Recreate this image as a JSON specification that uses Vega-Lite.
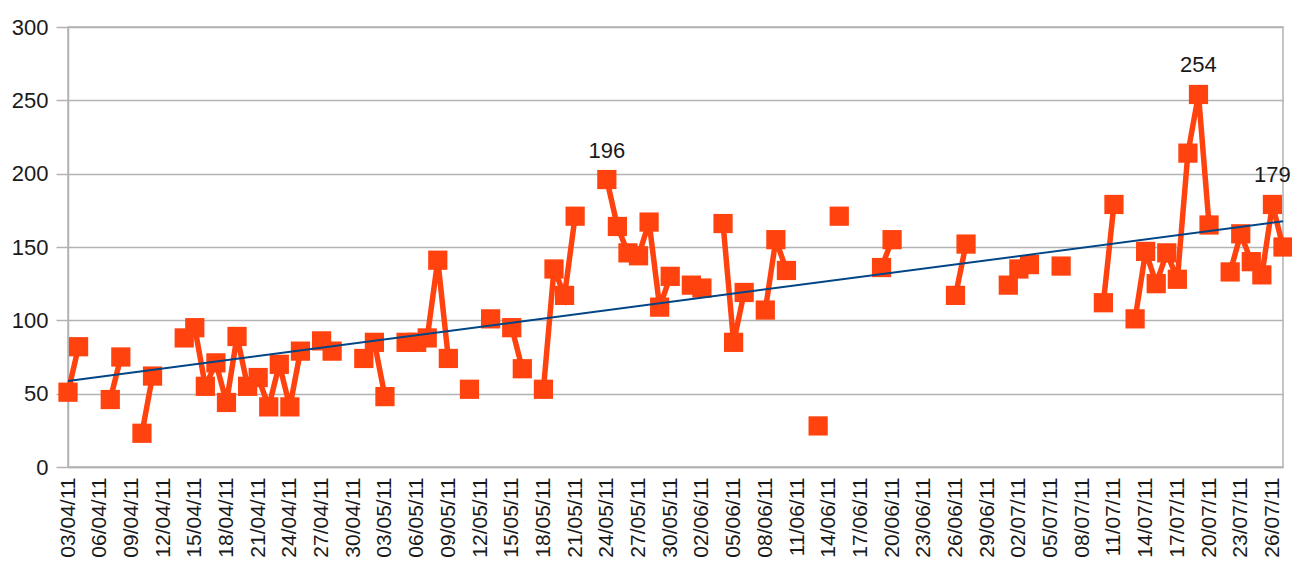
{
  "$schema": "https://vega.github.io/schema/vega-lite/v6.json",
  "autosize": {"type": "none"},
  "padding": {"left": 68, "top": 27, "right": 9, "bottom": 104},
  "width": 1215,
  "height": 440,
  "background": "#ffffff",
  "config": {
    "view": {"stroke": "#b3b3b3", "strokeWidth": 1.5},
    "font": "Liberation Sans",
    "axis": {"labelFont": "Liberation Sans", "labelColor": "#1a1a1a", "titleFont": "Liberation Sans"}
  },
  "data": {
    "values": [
      {"date": "2011-04-03", "v": 51}, {"date": "2011-04-04", "v": 82}, {"date": "2011-04-05", "v": null}, {"date": "2011-04-06", "v": null},
      {"date": "2011-04-07", "v": 46}, {"date": "2011-04-08", "v": 75}, {"date": "2011-04-09", "v": null}, {"date": "2011-04-10", "v": 23},
      {"date": "2011-04-11", "v": 62}, {"date": "2011-04-12", "v": null}, {"date": "2011-04-13", "v": null}, {"date": "2011-04-14", "v": 88},
      {"date": "2011-04-15", "v": 95}, {"date": "2011-04-16", "v": 55}, {"date": "2011-04-17", "v": 71}, {"date": "2011-04-18", "v": 44},
      {"date": "2011-04-19", "v": 89}, {"date": "2011-04-20", "v": 55}, {"date": "2011-04-21", "v": 61}, {"date": "2011-04-22", "v": 41},
      {"date": "2011-04-23", "v": 70}, {"date": "2011-04-24", "v": 41}, {"date": "2011-04-25", "v": 79}, {"date": "2011-04-26", "v": null},
      {"date": "2011-04-27", "v": 86}, {"date": "2011-04-28", "v": 79}, {"date": "2011-04-29", "v": null}, {"date": "2011-04-30", "v": null},
      {"date": "2011-05-01", "v": 74}, {"date": "2011-05-02", "v": 85}, {"date": "2011-05-03", "v": 48}, {"date": "2011-05-04", "v": null},
      {"date": "2011-05-05", "v": 85}, {"date": "2011-05-06", "v": 85}, {"date": "2011-05-07", "v": 88}, {"date": "2011-05-08", "v": 141},
      {"date": "2011-05-09", "v": 74}, {"date": "2011-05-10", "v": null}, {"date": "2011-05-11", "v": 53}, {"date": "2011-05-12", "v": null},
      {"date": "2011-05-13", "v": 101}, {"date": "2011-05-14", "v": null}, {"date": "2011-05-15", "v": 95}, {"date": "2011-05-16", "v": 67},
      {"date": "2011-05-17", "v": null}, {"date": "2011-05-18", "v": 53}, {"date": "2011-05-19", "v": 135}, {"date": "2011-05-20", "v": 117},
      {"date": "2011-05-21", "v": 171}, {"date": "2011-05-22", "v": null}, {"date": "2011-05-23", "v": null}, {"date": "2011-05-24", "v": 196, "label": "196"},
      {"date": "2011-05-25", "v": 164}, {"date": "2011-05-26", "v": 146}, {"date": "2011-05-27", "v": 144}, {"date": "2011-05-28", "v": 167},
      {"date": "2011-05-29", "v": 109}, {"date": "2011-05-30", "v": 130}, {"date": "2011-05-31", "v": null}, {"date": "2011-06-01", "v": 124},
      {"date": "2011-06-02", "v": 122}, {"date": "2011-06-03", "v": null}, {"date": "2011-06-04", "v": 166}, {"date": "2011-06-05", "v": 85},
      {"date": "2011-06-06", "v": 119}, {"date": "2011-06-07", "v": null}, {"date": "2011-06-08", "v": 107}, {"date": "2011-06-09", "v": 155},
      {"date": "2011-06-10", "v": 134}, {"date": "2011-06-11", "v": null}, {"date": "2011-06-12", "v": null}, {"date": "2011-06-13", "v": 28},
      {"date": "2011-06-14", "v": null}, {"date": "2011-06-15", "v": 171}, {"date": "2011-06-16", "v": null}, {"date": "2011-06-17", "v": null},
      {"date": "2011-06-18", "v": null}, {"date": "2011-06-19", "v": 136}, {"date": "2011-06-20", "v": 155}, {"date": "2011-06-21", "v": null},
      {"date": "2011-06-22", "v": null}, {"date": "2011-06-23", "v": null}, {"date": "2011-06-24", "v": null}, {"date": "2011-06-25", "v": null},
      {"date": "2011-06-26", "v": 117}, {"date": "2011-06-27", "v": 152}, {"date": "2011-06-28", "v": null}, {"date": "2011-06-29", "v": null},
      {"date": "2011-06-30", "v": null}, {"date": "2011-07-01", "v": 124}, {"date": "2011-07-02", "v": 135}, {"date": "2011-07-03", "v": 138},
      {"date": "2011-07-04", "v": null}, {"date": "2011-07-05", "v": null}, {"date": "2011-07-06", "v": 137}, {"date": "2011-07-07", "v": null},
      {"date": "2011-07-08", "v": null}, {"date": "2011-07-09", "v": null}, {"date": "2011-07-10", "v": 112}, {"date": "2011-07-11", "v": 179},
      {"date": "2011-07-12", "v": null}, {"date": "2011-07-13", "v": 101}, {"date": "2011-07-14", "v": 147}, {"date": "2011-07-15", "v": 125},
      {"date": "2011-07-16", "v": 146}, {"date": "2011-07-17", "v": 128}, {"date": "2011-07-18", "v": 214}, {"date": "2011-07-19", "v": 254, "label": "254"},
      {"date": "2011-07-20", "v": 165}, {"date": "2011-07-21", "v": null}, {"date": "2011-07-22", "v": 133}, {"date": "2011-07-23", "v": 159},
      {"date": "2011-07-24", "v": 140}, {"date": "2011-07-25", "v": 131}, {"date": "2011-07-26", "v": 179, "label": "179"}, {"date": "2011-07-27", "v": 150}
    ]
  },
  "encoding": {
    "x": {
      "field": "date",
      "type": "temporal",
      "scale": {"type": "utc", "domain": [1301788800000, 1311724800000], "nice": false},
      "axis": {
        "title": null,
        "labelExpr": "utcFormat(datum.value, '%d/%m/%y')",
        "values": [1301788800000, 1302048000000, 1302307200000, 1302566400000, 1302825600000, 1303084800000, 1303344000000, 1303603200000, 1303862400000, 1304121600000, 1304380800000, 1304640000000, 1304899200000, 1305158400000, 1305417600000, 1305676800000, 1305936000000, 1306195200000, 1306454400000, 1306713600000, 1306972800000, 1307232000000, 1307491200000, 1307750400000, 1308009600000, 1308268800000, 1308528000000, 1308787200000, 1309046400000, 1309305600000, 1309564800000, 1309824000000, 1310083200000, 1310342400000, 1310601600000, 1310860800000, 1311120000000, 1311379200000, 1311638400000],
        "labelAngle": -90,
        "labelFontSize": 21,
        "labelPadding": 10,
        "labelOverlap": false,
        "labelFlush": false,
        "ticks": false,
        "grid": false,
        "domainColor": "#b3b3b3",
        "domainWidth": 1.5
      }
    },
    "y": {
      "field": "v",
      "type": "quantitative",
      "scale": {"domain": [0, 300], "nice": false, "zero": true},
      "axis": {
        "title": null,
        "values": [0, 50, 100, 150, 200, 250, 300],
        "labelFontSize": 22,
        "labelPadding": 8,
        "tickSize": 12,
        "tickColor": "#b3b3b3",
        "tickWidth": 1.5,
        "gridColor": "#b3b3b3",
        "gridWidth": 1.5,
        "domainColor": "#b3b3b3",
        "domainWidth": 1.5
      }
    }
  },
  "layer": [
    {
      "mark": {"type": "line", "color": "#ff420e", "strokeWidth": 5.5, "invalid": "break-paths-show-domains"}
    },
    {
      "mark": {"type": "point", "shape": "square", "filled": true, "opacity": 1, "size": 370, "color": "#ff420e"}
    },
    {
      "transform": [{"regression": "v", "on": "date"}],
      "mark": {"type": "line", "color": "#004586", "strokeWidth": 2},
      "encoding": {}
    },
    {
      "transform": [{"filter": "datum.label != null"}],
      "mark": {"type": "text", "baseline": "alphabetic", "dy": -22, "fontSize": 22, "color": "#1a1a1a", "font": "Liberation Sans"},
      "encoding": {"text": {"field": "label"}}
    }
  ]
}
